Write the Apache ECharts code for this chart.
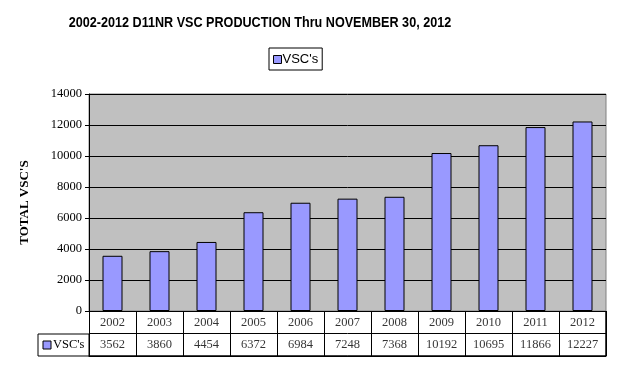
<!DOCTYPE html>
<html><head><meta charset="utf-8">
<script src="https://cdn.jsdelivr.net/npm/echarts@6/dist/echarts.min.js"></script>
<style>html,body{margin:0;padding:0;background:#fff}#c{width:619px;height:370px}</style>
</head><body><div id="c"></div>
<script>
const years = ['2002','2003','2004','2005','2006','2007','2008','2009','2010','2011','2012'];
const vscValues = [3562, 3860, 4454, 6372, 6984, 7248, 7368, 10192, 10695, 11866, 12227];
const seriesName = "VSC's";
const titleText = '2002-2012 D11NR VSC PRODUCTION Thru NOVEMBER 30, 2012';
const yAxisName = "TOTAL VSC'S";

const serif = '"Liberation Serif","Times New Roman",serif';
const sans = '"Liberation Sans",Arial,sans-serif';
const barColor = '#9999ff';

const tableData = [];
years.forEach((y, i) => {
  tableData.push({value: [i, 'year'], label: {formatter: y}});
  tableData.push({value: [i, 'val'], label: {formatter: String(vscValues[i])}});
});

const chart = echarts.init(document.getElementById('c'), null, {renderer: 'canvas'});
chart.setOption({
  backgroundColor: '#fff',
  animation: false,
  legend: {
    data: [{name: seriesName, icon: 'rect'}], left: 269, top: 48,
    padding: [5, 4, 4, 4], borderColor: '#000', borderWidth: 1,
    itemWidth: 8, itemHeight: 8, itemGap: 4,
    textStyle: {fontFamily: sans, fontSize: 13, color: '#000', padding: [0, 0, 0, -4]},
    itemStyle: {borderColor: '#000', borderWidth: 1}
  },
  grid: [
    {left: 89, top: 94, width: 517, height: 217, show: true, backgroundColor: '#c0c0c0', borderColor: '#808080', borderWidth: 1, containLabel: false},
    {left: 89, top: 311, width: 517, height: 45, show: false}
  ],
  xAxis: [
    {type: 'category', data: years, gridIndex: 0, axisLabel: {show: false}, axisTick: {show: false},
     axisLine: {lineStyle: {color: '#000'}}},
    {type: 'category', data: years, gridIndex: 1, axisLabel: {show: false}, axisTick: {show: false},
     axisLine: {show: true, lineStyle: {color: '#000'}}, boundaryGap: true,
     splitLine: {show: true, interval: 0, lineStyle: {color: '#000', width: 1}}}
  ],
  yAxis: [
    {type: 'value', gridIndex: 0, min: 0, max: 14000, interval: 2000,
     name: yAxisName, nameLocation: 'middle', nameGap: 58, nameRotate: 90,
     nameTextStyle: {fontFamily: serif, fontSize: 13, fontWeight: 'bold', color: '#000'},
     axisLine: {show: true, lineStyle: {color: '#000'}},
     axisTick: {show: true, length: 4, lineStyle: {color: '#000'}},
     axisLabel: {fontFamily: serif, fontSize: 12.5, color: '#000', margin: 7, formatter: v => String(v)},
     splitLine: {lineStyle: {color: '#000', width: 1}}},
    {type: 'category', gridIndex: 1, data: ['val', 'year'], axisLabel: {show: false}, axisTick: {show: false},
     axisLine: {show: true, lineStyle: {color: '#000'}}, boundaryGap: true,
     splitLine: {show: true, interval: 0, lineStyle: {color: '#000'}}}
  ],
  series: [
    {name: seriesName, type: 'bar', xAxisIndex: 0, yAxisIndex: 0, data: vscValues, barWidth: 20,
     itemStyle: {color: barColor, borderColor: '#000', borderWidth: 1}},
    {type: 'scatter', xAxisIndex: 1, yAxisIndex: 1, data: tableData, symbolSize: 0, silent: true,
     label: {show: true, position: 'inside', fontFamily: serif, fontSize: 12.5, color: '#000'}}
  ],
  graphic: [
    {type: 'text', x: 260, y: 23, scaleX: 0.9, originX: 0, originY: 0,
     style: {text: titleText, fontFamily: sans, fontSize: 14, fontWeight: 'bold', fill: '#000', align: 'center', verticalAlign: 'middle'}},
    {type: 'rect', shape: {x: 606, y: 311, width: 0, height: 45}, style: {stroke: '#000', lineWidth: 1}},
    {type: 'rect', shape: {x: 89, y: 356, width: 517, height: 0}, style: {stroke: '#000', lineWidth: 1}},
    {type: 'rect', shape: {x: 38, y: 334, width: 51, height: 22}, style: {fill: 'none', stroke: '#000', lineWidth: 1}},
    {type: 'rect', shape: {x: 43, y: 341, width: 8, height: 8}, style: {fill: barColor, stroke: '#000', lineWidth: 1}},
    {type: 'text', x: 53, y: 345, style: {text: seriesName, fontFamily: serif, fontSize: 12.5, fill: '#000', verticalAlign: 'middle'}}
  ]
});
</script></body></html>
